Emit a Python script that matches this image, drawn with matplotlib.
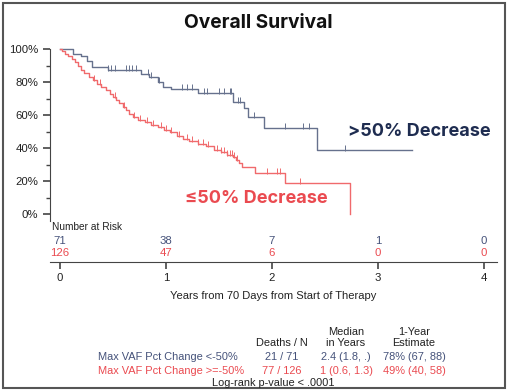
import numpy as np
import matplotlib
matplotlib.use("Agg")
import matplotlib.pyplot as plt
from matplotlib.patches import Rectangle

plt.rcParams['font.family'] = ['Liberation Sans', 'DejaVu Sans']

# Kaplan-Meier steps (years, survival after the drop)
blue_times = [0.12, 0.20, 0.25, 0.30, 0.45, 0.76, 0.84, 0.92, 0.97, 1.05, 1.30, 1.63, 1.74, 1.77, 1.92, 2.42]
blue_surv = [0.97, 0.955, 0.93, 0.89, 0.87, 0.85, 0.83, 0.80, 0.77, 0.755, 0.733, 0.68, 0.64, 0.59, 0.52, 0.39]
blue_end = 3.32
blue_censor = [0.45, 0.48, 0.52, 0.62, 0.65, 0.68, 0.72, 0.83, 0.86, 0.93, 1.15, 1.20, 1.25, 1.36, 1.39,
               1.50, 1.55, 1.60, 1.61, 1.68, 1.70, 1.83, 2.12, 2.29, 2.35, 2.69]

red_times = [0.02, 0.05, 0.08, 0.11, 0.14, 0.17, 0.20, 0.23, 0.27, 0.31, 0.35, 0.39, 0.43, 0.47, 0.50,
             0.53, 0.56, 0.59, 0.62, 0.65, 0.69, 0.74, 0.80, 0.86, 0.92, 0.98, 1.04, 1.10, 1.16, 1.22,
             1.30, 1.38, 1.45, 1.52, 1.58, 1.63, 1.66, 1.69, 1.72, 1.84, 2.12, 2.74]
red_surv = [0.985, 0.97, 0.955, 0.94, 0.92, 0.90, 0.875, 0.855, 0.83, 0.81, 0.79, 0.77, 0.75, 0.73, 0.71,
            0.69, 0.67, 0.65, 0.63, 0.605, 0.585, 0.57, 0.555, 0.54, 0.525, 0.51, 0.495, 0.475, 0.455, 0.44,
            0.425, 0.41, 0.39, 0.375, 0.36, 0.345, 0.33, 0.31, 0.285, 0.25, 0.19, 0.0]
red_end = 2.74
red_censor = [0.32, 0.38, 0.52, 0.60, 0.70, 0.75, 0.82, 0.88, 0.95, 1.00, 1.05, 1.12, 1.20, 1.25, 1.30,
              1.35, 1.40, 1.48, 1.52, 1.55, 1.58, 1.60, 1.62, 1.64, 1.67, 1.95, 2.05, 2.08, 2.26]

risk_times = [0, 1, 2, 3, 4]
blue_risk = [71, 38, 7, 1, 0]
red_risk = [126, 47, 6, 0, 0]

y_ticks = [0, 0.2, 0.4, 0.6, 0.8, 1.0]
y_labels = ["0%", "20%", "40%", "60%", "80%", "100%"]

col_heads_top = ["", "Median", "1-Year"]
col_heads_bot = ["Deaths / N", "in Years", "Estimate"]
row_names = ["Max VAF Pct Change <-50%", "Max VAF Pct Change >=-50%"]
row_deaths = ["21 / 71", "77 / 126"]
row_median = ["2.4 (1.8, .)", "1 (0.6, 1.3)"]
row_1yr = ["78% (67, 88)", "49% (40, 58)"]

BLUE = '#66718d'
BLUE_TXT = '#45527a'
BLUE_LBL = '#1e2c50'
RED = '#f06a6c'
RED_TXT = '#ea4a50'

W, H = 508, 391
fig = plt.figure(figsize=(W / 100, H / 100), dpi=100)

def fx(px):
    return px / W

def fy(py):
    return 1 - py / H

fig.patches.append(Rectangle((fx(3), fy(388)), fx(502), 385 / H, transform=fig.transFigure,
                             fill=False, edgecolor='#555555', lw=1.5))

ax = fig.add_axes([fx(50), fy(262), fx(447), (262 - 47) / H])
ax.set_xlim(-10 / 106, 4 + 13 / 106)
ax.set_ylim(-48 / 165, 1 + 2 / 165)


def step_xy(times, surv, end):
    x = [0] + list(times) + [end]
    y = [1.0] + list(surv) + [surv[-1]]
    return x, y


def level_at(times, surv, t):
    i = np.searchsorted(times, t, side='right')
    return 1.0 if i == 0 else surv[i - 1]


for times, surv, end, cens, col in [(blue_times, blue_surv, blue_end, blue_censor, BLUE),
                                     (red_times, red_surv, red_end, red_censor, RED)]:
    x, y = step_xy(times, surv, end)
    ax.step(x, y, where='post', color=col, lw=1.0, clip_on=False)
    cy = [level_at(times, surv, t) for t in cens]
    ax.plot(cens, np.array(cy) + 0.012, ls='none', marker='|', ms=4, mew=0.7, color=col, clip_on=False)

for s in ['top', 'right']:
    ax.spines[s].set_visible(False)
ax.spines['left'].set_bounds(-0.04, 1.0)
ax.spines['left'].set_color('#444444')
ax.spines['bottom'].set_color('#444444')
ax.set_yticks(y_ticks)
ax.set_yticklabels(y_labels)
ax.set_yticks(np.arange(0.1, 1.0, 0.2), minor=True)
ax.set_xticks(risk_times)
ax.tick_params(axis='both', labelsize=8.2, length=5, width=1.2, colors='#444444', labelcolor='#222222')
ax.tick_params(axis='x', pad=3)
ax.tick_params(axis='y', which='minor', length=3, width=1.0, colors='#444444')
ax.set_xlabel("Years from 70 Days from Start of Therapy", fontsize=8, labelpad=6, color='#222222')

# number at risk
ax.text(fx(52), fy(227), "Number at Risk", transform=fig.transFigure, fontsize=7.3,
        ha='left', va='center', color='#222222')
for t, b, r in zip(risk_times, blue_risk, red_risk):
    ax.text(t, -(241 - 214) / 165, str(b), ha='center', va='center', fontsize=8.2, color=BLUE_TXT)
    ax.text(t, -(253 - 214) / 165, str(r), ha='center', va='center', fontsize=8.2, color=RED_TXT)

# group labels
lab_font = ['Inter', 'DejaVu Sans']
fig.text(fx(348), fy(132), ">50% Decrease", fontsize=13, fontweight='bold', family=lab_font,
         color=BLUE_LBL, ha='left', va='center')
fig.text(fx(185), fy(198), "\u226450% Decrease", fontsize=13, fontweight='bold', family=lab_font,
         color=RED_TXT, ha='left', va='center')

fig.text(fx(258), fy(23), "Overall Survival", fontsize=13.8, fontweight='bold', family=lab_font,
         color='#111111', ha='center', va='center')

# summary table
col_x = [282, 346, 414]
for cx, top, bot in zip(col_x, col_heads_top, col_heads_bot):
    fig.text(fx(cx), fy(332), top, ha='center', va='center', fontsize=7.9, color='#222222')
    fig.text(fx(cx), fy(343), bot, ha='center', va='center', fontsize=7.9, color='#222222')
for i, (name, d, m, e) in enumerate(zip(row_names, row_deaths, row_median, row_1yr)):
    yy = fy(357 + 14 * i)
    col = BLUE_TXT if i == 0 else RED_TXT
    fig.text(fx(98), yy, name, ha='left', va='center', fontsize=7.9, color=col)
    for cx, val in zip(col_x, [d, m, e]):
        fig.text(fx(cx), yy, val, ha='center', va='center', fontsize=7.9, color=col)
fig.text(fx(273), fy(383), "Log-rank p-value < .0001", ha='center', va='center', fontsize=7.9,
         color='#222222')

fig.savefig("out.png", dpi=100)
